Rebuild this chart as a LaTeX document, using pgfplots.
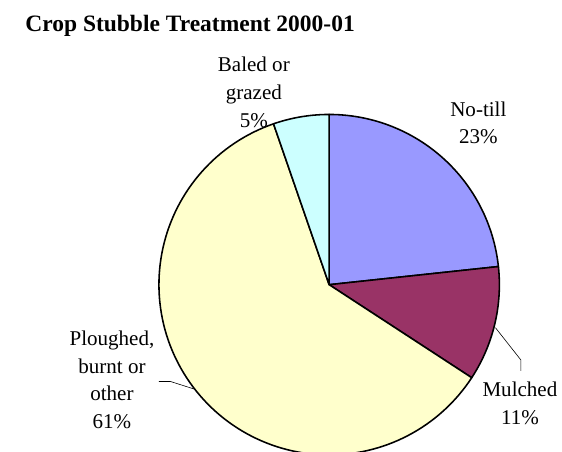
\documentclass[border=0pt]{standalone}
\usepackage{fontspec}
\setmainfont{Liberation Serif}
\usepackage{pgfplots}
\pgfplotsset{compat=1.18}

\definecolor{notill}{HTML}{9999FF}
\definecolor{mulched}{HTML}{993366}
\definecolor{ploughed}{HTML}{FFFFCC}
\definecolor{baled}{HTML}{CCFFFF}

% shares in per cent, clockwise from 12 o'clock
\def\vNotill{23.3}
\def\vMulched{10.9}
\def\vPloughed{60.5}
\def\vBaled{5.3}

\tikzset{
  slice/.style={draw=black, line width=1.6bp, line join=round},
  lbl/.style={font=\fontsize{21.5bp}{28.3bp}\selectfont, align=center, anchor=base},
}

\begin{document}
\pgfmathsetmacro{\aA}{90}
\pgfmathsetmacro{\aB}{\aA-3.6*\vNotill}
\pgfmathsetmacro{\aC}{\aB-3.6*\vMulched}
\pgfmathsetmacro{\aD}{\aC-3.6*\vPloughed}
\pgfmathsetmacro{\aE}{\aD-3.6*\vBaled}
\begin{tikzpicture}
\begin{axis}[
  scale only axis, width=348bp, height=348bp,
  xmin=-174, xmax=174, ymin=-174, ymax=174,
  hide axis, clip=false,
  samples=120, variable=\t,
]
  \addplot[slice, fill=notill,   domain=\aB:\aA] ({174*cos(t)},{174*sin(t)}) -- (0,0) -- cycle;
  \addplot[slice, fill=mulched,  domain=\aC:\aB] ({174*cos(t)},{174*sin(t)}) -- (0,0) -- cycle;
  \addplot[slice, fill=ploughed, domain=\aD:\aC] ({174*cos(t)},{174*sin(t)}) -- (0,0) -- cycle;
  \addplot[slice, fill=baled,    domain=\aE:\aD] ({174*cos(t)},{174*sin(t)}) -- (0,0) -- cycle;

  % leader lines
  \addplot[black, line width=0.6bp] coordinates {(-174,-99) (-162,-99) (-137,-107)};
  \addplot[black, line width=0.6bp] coordinates {(170,-44) (196,-77) (196,-88)};

  \node[anchor=base west, font=\fontsize{24bp}{28bp}\selectfont\bfseries]
    at (axis cs:-314,259) {Crop Stubble Treatment 2000-01};
  % anchor=base sits on the last line of each label
  \node[lbl] at (axis cs:-77,161) {Baled or\\grazed\\5\%};
  \node[lbl] at (axis cs:152.5,144) {No-till\\23\%};
  \node[lbl] at (axis cs:195,-143) {Mulched\\11\%};
  \node[lbl] at (axis cs:-222,-147) {Ploughed,\\burnt or\\other\\61\%};

  % page corners, one axis unit = 1 pixel of the reference
  \coordinate (pageBL) at (axis cs:-324,-171);
  \coordinate (pageTR) at (axis cs:238,291);
\end{axis}
\pgfresetboundingbox
\path[use as bounding box] (pageBL) rectangle (pageTR);
\end{tikzpicture}
\end{document}
